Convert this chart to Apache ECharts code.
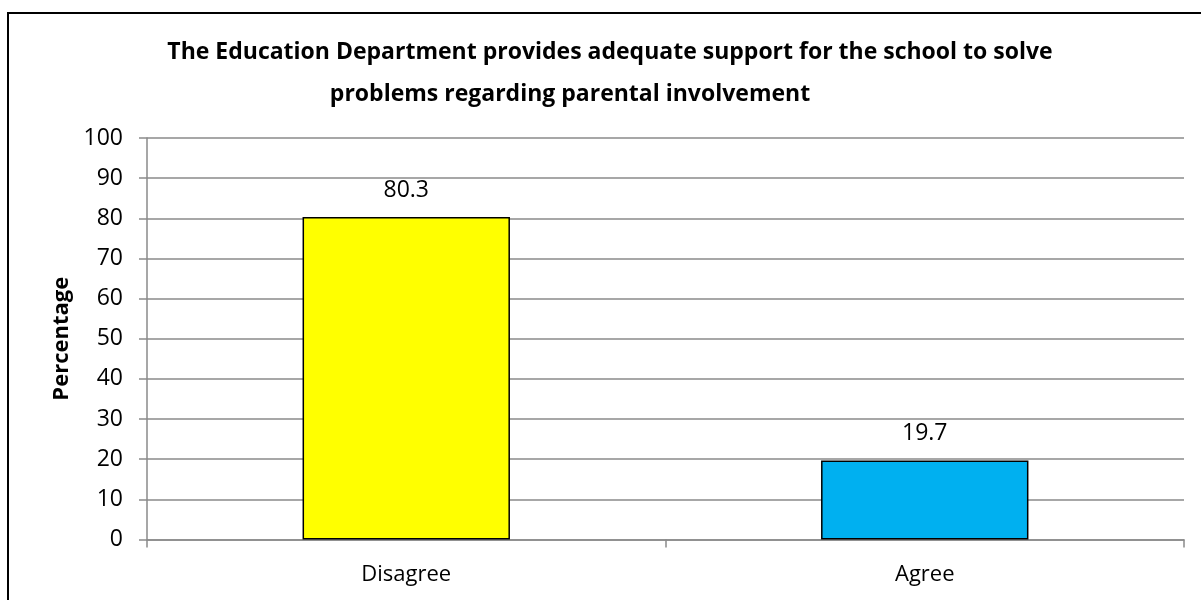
<!DOCTYPE html>
<html>
<head>
<meta charset="utf-8">
<title>Education Department support</title>
<script src="https://cdn.jsdelivr.net/npm/echarts@6/dist/echarts.min.js"></script>
<style>
  html, body { margin: 0; padding: 0; background: #ffffff; }
  #chart { width: 1201px; height: 600px; }
</style>
</head>
<body>
<div id="chart"></div>
<script>
// Response categories and their shares (%)
const categories = ['Disagree', 'Agree'];
const percentages = [80.3, 19.7];
const barColors = ['#FFFF00', '#00B0F0'];
const yTicks = { min: 0, max: 100, interval: 10 };
const titleLines = [
  'The Education Department provides adequate support for the school to solve',
  'problems regarding parental involvement'
];
const yAxisTitle = 'Percentage';

const FONT = '"Open Sans", "Liberation Sans", sans-serif';
const chart = echarts.init(document.getElementById('chart'), null, { renderer: 'canvas' });

// Two-line bold title, each line centred on its own anchor
const titleAnchors = [{ x: 610, y: 52 }, { x: 570, y: 94 }];
const titleGraphics = titleLines.map((line, i) => ({
  type: 'text',
  x: titleAnchors[i].x,
  y: titleAnchors[i].y,
  silent: true,
  style: {
    text: line,
    fontFamily: FONT,
    fontWeight: 'bold',
    fontSize: 23,
    fill: '#000000',
    align: 'center',
    verticalAlign: 'middle'
  }
}));

chart.setOption({
  animation: false,
  backgroundColor: '#ffffff',
  graphic: [
    ...titleGraphics,
    {
      // outer chart frame
      type: 'rect',
      shape: { x: 8, y: 13, width: 1400, height: 800 },
      style: { fill: 'none', stroke: '#000000', lineWidth: 2 },
      silent: true,
      z: 100
    }
  ],
  grid: { left: 147, right: 17, top: 138, bottom: 60.5, containLabel: false },
  xAxis: {
    type: 'category',
    data: categories,
    axisLine: { show: true, lineStyle: { color: '#8a8a8a', width: 1.5 } },
    axisTick: { show: true, length: 8, alignWithLabel: false, lineStyle: { color: '#8a8a8a', width: 1.5 } },
    axisLabel: { margin: 24, fontFamily: FONT, fontSize: 22, color: '#000000' },
    splitLine: { show: false }
  },
  yAxis: {
    type: 'value',
    min: yTicks.min,
    max: yTicks.max,
    interval: yTicks.interval,
    name: yAxisTitle,
    nameLocation: 'middle',
    nameGap: 73,
    nameRotate: 90,
    nameTextStyle: { fontFamily: FONT, fontWeight: 'bold', fontSize: 22, color: '#000000' },
    axisLine: { show: true, lineStyle: { color: '#8a8a8a', width: 1.5 } },
    axisTick: { show: true, length: 8, lineStyle: { color: '#8a8a8a', width: 1.5 } },
    axisLabel: { margin: 24, fontFamily: FONT, fontSize: 23, color: '#000000' },
    splitLine: { show: true, lineStyle: { color: '#8a8a8a', width: 1.5 } }
  },
  series: [{
    type: 'bar',
    barWidth: '40%',
    data: percentages.map((v, i) => ({
      value: v,
      itemStyle: { color: barColors[i] }
    })),
    itemStyle: { borderColor: '#000000', borderWidth: 1.5 },
    label: {
      show: true,
      position: 'top',
      distance: 15,
      fontFamily: FONT,
      fontSize: 23,
      color: '#000000',
      formatter: p => p.value.toFixed(1)
    }
  }]
});
</script>
</body>
</html>
